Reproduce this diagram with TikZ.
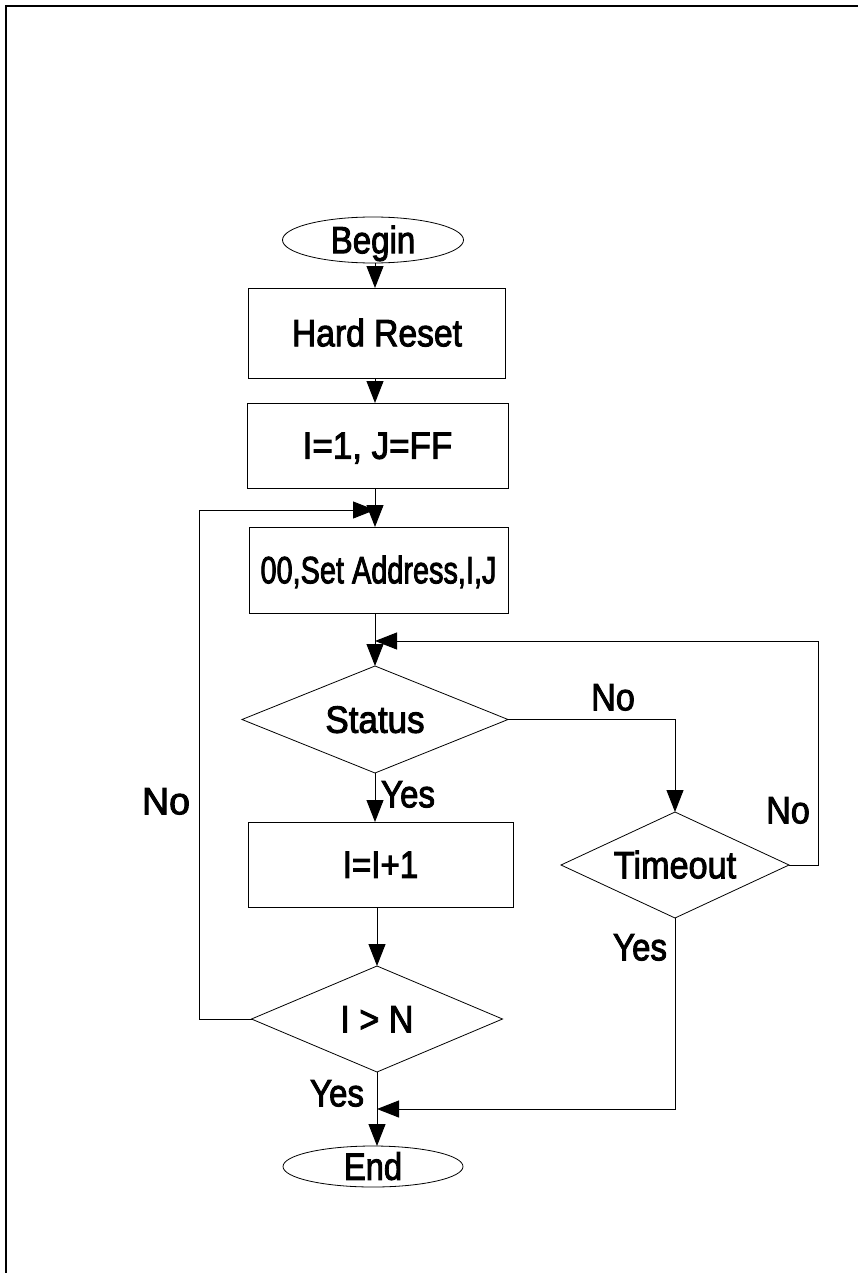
\documentclass[tikz,border=0pt]{standalone}
\usepackage{fontspec}
\setmainfont{Liberation Sans}
\newfontfamily\lblfont[FakeBold=2.6]{Liberation Sans}
\usetikzlibrary{shapes.geometric,arrows.meta}
\newcommand{\sx}[2]{\scalebox{#1}[1]{#2}}
\begin{document}
\begin{tikzpicture}[x=1pt,y=-1pt,
  every node/.style={font=\lblfont\fontsize{38}{40}\selectfont, inner sep=0pt, outer sep=0pt, text height=26.5pt, text depth=0pt},
  box/.style={draw, rectangle, line width=1pt},
  term/.style={draw, ellipse, line width=0.8pt},
  decision/.style={draw, diamond, aspect=2.5, line width=0.8pt},
  conn/.style={line width=1pt, -{Triangle[length=22pt,width=17pt]}},
  wire/.style={line width=1pt},
  frame/.style={line width=2pt}]
\useasboundingbox (0,0) rectangle (858,1273);
% frame
\coordinate (fbl) at (6,1273);
\coordinate (ftl) at (6,6);
\coordinate (ftr) at (858,6);
\draw[frame] (fbl) -- (ftl) -- (ftr);

% nodes
\node[term, minimum width=181pt, minimum height=46pt] (begin) at (373,240) {\sx{0.87}{Begin}};
\node[box, minimum width=257pt, minimum height=90pt] (hard) at (377,333) {\sx{0.885}{Hard Reset}};
\node[box, minimum width=261pt, minimum height=85pt] (init) at (377.5,445.5) {\sx{0.92}{I=1, J=FF}};
\node[box, minimum width=259pt, minimum height=86pt] (setaddr) at (378.5,570) {\sx{0.76}{00,Set Address,I,J}};
\node[decision, minimum width=266pt, minimum height=107pt] (status) at (375,719.5) {\sx{0.92}{Status}};
\node[box, minimum width=265pt, minimum height=85pt] (inc) at (380.5,864.5) {\sx{0.87}{I=I+1}};
\node[decision, minimum width=251pt, minimum height=106pt] (cmp) at (377,1019) {\sx{0.9}{I > N}};
\node[decision, minimum width=228pt, minimum height=106pt] (tout) at (675,865) {\sx{0.9}{Timeout}};
\node[term, minimum width=180pt, minimum height=41pt] (endn) at (373,1166.5) {\sx{0.86}{End}};

% column coordinates
\coordinate (c1) at (375,0);

% main arrows
\draw[conn] (begin.south -| c1) -- (hard.north -| c1);
\draw[conn] (hard.south -| c1) -- (init.north -| c1);
\draw[conn] (init.south -| c1) -- (setaddr.north -| c1);
\draw[conn] (setaddr.south -| c1) -- (status.north);
\draw[conn] (status.south) -- (inc.north -| status.south);
\draw[conn] (inc.south -| cmp.north) -- (cmp.north);
\draw[conn] (cmp.south) -- (endn.north -| cmp.south);

% status -> timeout
\draw[conn] (status.east) -- (status.east -| tout.north) -- (tout.north);
% timeout no -> back to status
\coordinate (rt) at (818,641);
\coordinate (st) at (375,641);
\draw[conn] (tout.east) -- (tout.east -| rt) -- (rt) -- (st);
% timeout yes -> end
\coordinate (ty) at (377,1109);
\draw[conn] (tout.south) -- (tout.south |- ty) -- (ty);
% I>N no -> loop
\coordinate (lx) at (199,510);
\coordinate (lt) at (375,510);
\draw[conn] (cmp.west) -- (cmp.west -| lx) -- (lx) -- (lt);

% labels
\node (lno1) at (613,697) {\sx{0.9}{No}};
\node (lno2) at (788,810) {\sx{0.9}{No}};
\node (lno3) at (166,801) {\sx{0.99}{No}};
\node (lyes1) at (408,794) {\sx{0.87}{Yes}};
\node (lyes2) at (640,947) {\sx{0.87}{Yes}};
\node (lyes3) at (337,1093) {\sx{0.87}{Yes}};
\end{tikzpicture}
\end{document}
